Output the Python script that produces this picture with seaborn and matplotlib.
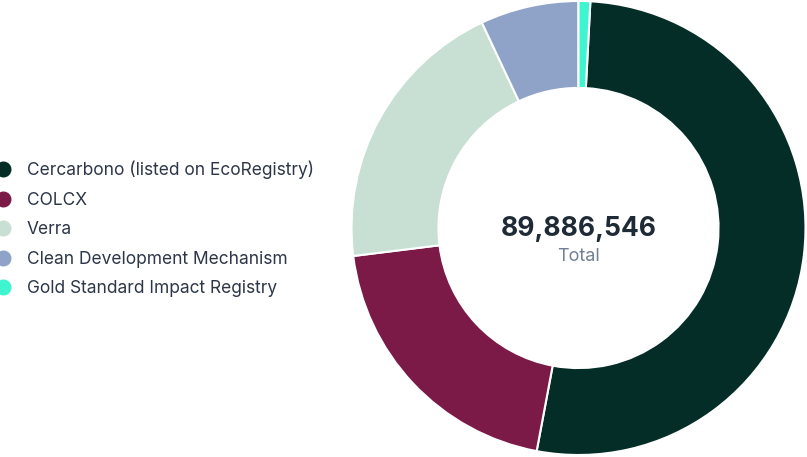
import matplotlib
matplotlib.use("Agg")
import matplotlib.pyplot as plt
from matplotlib.lines import Line2D
import seaborn as sns

# dados
registros = ["Cercarbono (listed on EcoRegistry)", "COLCX", "Verra",
             "Clean Development Mechanism", "Gold Standard Impact Registry"]
valores = [46846546, 18050000, 17950000, 6290000, 750000]
cores = ["#032d26", "#7b1a47", "#c8e0d4", "#8fa3c8", "#3ef5d0"]
total_label = "89,886,546"

sns.set_theme(style="white")
plt.rcParams["font.family"] = ["Inter", "DejaVu Sans"]

fig = plt.figure(figsize=(8.07, 4.57), dpi=100)
ax = fig.add_axes([351.5 / 807, 2 / 457, 454 / 807, 454 / 457])

ax.pie(valores, colors=cores, startangle=87, counterclock=False, radius=1,
       wedgeprops=dict(width=0.383, edgecolor="white", linewidth=1.5))
ax.set_xlim(-1, 1)
ax.set_ylim(-1, 1)
ax.set_aspect("equal")
ax.axis("off")

# texto central
ax.text(0, -0.003, total_label, ha="center", va="center", fontsize=19,
        fontweight="bold", color="#1f2a37")
ax.text(0, -0.125, "Total", ha="center", va="center", fontsize=13, color="#718096")

# legenda com marcadores circulares
handles = [Line2D([0], [0], marker="o", linestyle="", markersize=10.5,
                  markerfacecolor=c, markeredgecolor=c) for c in cores]
fig.legend(handles, registros, loc="center left", bbox_to_anchor=(-0.0285, 228 / 457),
           frameon=False, fontsize=12.5, labelcolor="#2d3748",
           handletextpad=0.755, labelspacing=0.72, handlelength=1.2)

fig.savefig("out.png", dpi=100)
